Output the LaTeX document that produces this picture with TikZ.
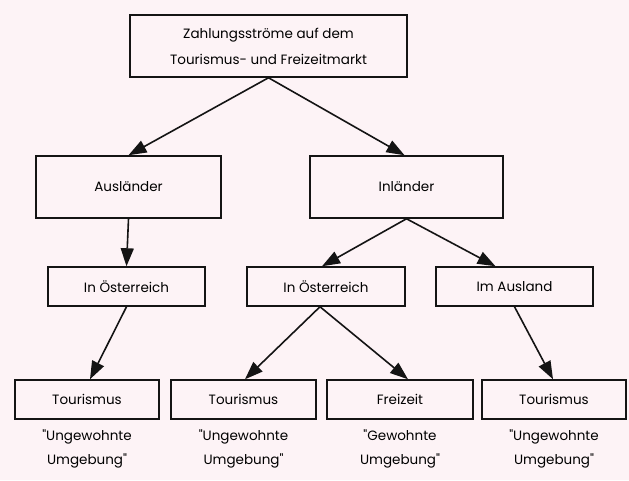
\documentclass[tikz,border=0pt]{standalone}
\usepackage{fontspec}
\setmainfont{Poppins}
\usetikzlibrary{positioning, arrows.meta}
\definecolor{paperpink}{RGB}{253, 243, 246}
\definecolor{inkblack}{RGB}{20, 20, 20}

\begin{document}
\begin{tikzpicture}[
    x=1pt, y=-1pt,
    box/.style={
        rectangle, draw=inkblack, line width=1.5pt, fill=paperpink,
        inner sep=0pt, align=center,
        font=\fontsize{13.5}{26}\selectfont
    },
    bigbox/.style={box, minimum height=62pt},
    smallbox/.style={box, minimum height=39pt},
    note/.style={
        align=center, inner sep=0pt,
        font=\fontsize{13.5}{24}\selectfont
    },
    arr/.style={-{Triangle[length=18pt, width=13pt]}, line width=1.6pt, color=inkblack},
]

% Background and page size
\fill[paperpink] (0,0) rectangle (629,480);

% Top level
\node[bigbox, minimum width=277pt] (markt) at (268.5,46)
    {Zahlungsströme auf dem\\Tourismus- und Freizeitmarkt};

% Second level
\node[bigbox, minimum width=185pt] (auslaender) at (128.5,187) {Ausländer};
\node[bigbox, minimum width=193pt] (inlaender)  at (406.5,187) {Inländer};

% Third level
\node[smallbox, minimum width=157pt] (oesterreichA) at (126.5,286.5) {In Österreich};
\node[smallbox, minimum width=158pt] (oesterreichI) at (326,286.5)   {In Österreich};
\node[smallbox, minimum width=157pt] (ausland)      at (514.5,286.5) {Im Ausland};

% Bottom level
\node[smallbox, minimum width=144pt] (tourA)    at (87,399.5)    {Tourismus};
\node[smallbox, minimum width=145pt] (tourI)    at (243.5,399.5) {Tourismus};
\node[smallbox, minimum width=146pt] (freizeit) at (400,399.5)   {Freizeit};
\node[smallbox, minimum width=144pt] (tourAus)  at (554,399.5)   {Tourismus};

% Notes below the bottom boxes
\node[note, below=10pt of tourA]    {\textquotedbl Ungewohnte\\Umgebung\textquotedbl};
\node[note, below=10pt of tourI]    {\textquotedbl Ungewohnte\\Umgebung\textquotedbl};
\node[note, below=10pt of freizeit] {\textquotedbl Gewohnte\\Umgebung\textquotedbl};
\node[note, below=10pt of tourAus]  {\textquotedbl Ungewohnte\\Umgebung\textquotedbl};

% Connectors
\draw[arr] (markt.south) -- (auslaender.north);
\draw[arr] (markt.south) -- ([xshift=-2pt]inlaender.north);

\draw[arr] (auslaender.south) -- (oesterreichA.north);
\draw[arr] (inlaender.south) -- ([xshift=-4pt]oesterreichI.north);
\draw[arr] (inlaender.south) -- ([xshift=-19pt]ausland.north);

\draw[arr] (oesterreichA.south) -- ([xshift=3pt]tourA.north);
\draw[arr] ([xshift=-6pt]oesterreichI.south) -- ([xshift=1.5pt]tourI.north);
\draw[arr] ([xshift=-6pt]oesterreichI.south) -- ([xshift=8pt]freizeit.north);
\draw[arr] (ausland.south) -- ([xshift=-1pt]tourAus.north);

\end{tikzpicture}
\end{document}
